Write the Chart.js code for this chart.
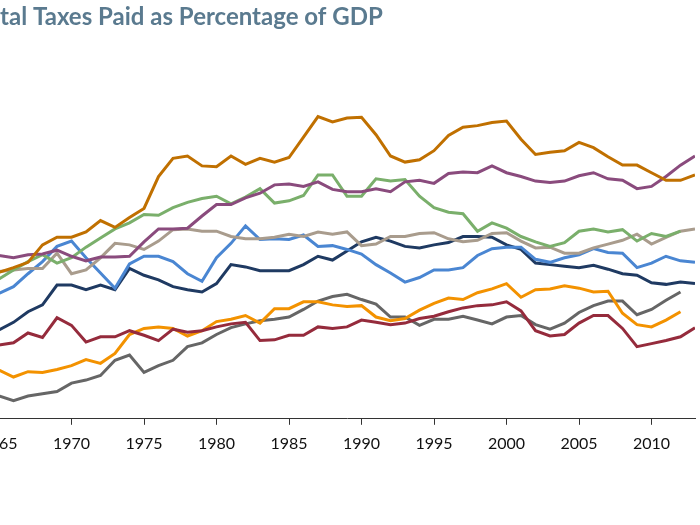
<!DOCTYPE html>
<html>
<head>
<meta charset="utf-8">
<script src="https://cdn.jsdelivr.net/npm/chart.js@4"></script>
<style>
html,body{margin:0;padding:0;background:#fff;overflow:hidden;width:700px;height:525px;}
#wrap{position:absolute;left:-60px;top:0;width:760px;height:525px;}
</style>
</head>
<body>
<div id="wrap"><canvas id="c"></canvas></div>
<script>
const titleText = "Total Taxes Paid as Percentage of GDP";
const years = [1965,1966,1967,1968,1969,1970,1971,1972,1973,1974,
               1975,1976,1977,1978,1979,1980,1981,1982,1983,1984,
               1985,1986,1987,1988,1989,1990,1991,1992,1993,1994,
               1995,1996,1997,1998,1999,2000,2001,2002,2003,2004,
               2005,2006,2007,2008,2009,2010,2011,2012,2013];
const tickYears = [1965,1970,1975,1980,1985,1990,1995,2000,2005,2010];

const brownSeries = [29.3,29.9,30.6,32.9,33.9,33.9,34.6,36.1,35.2,36.5,
  37.7,41.9,44.3,44.6,43.3,43.2,44.6,43.5,44.3,43.8,
  44.4,47.1,49.8,49.1,49.6,49.7,47.4,44.6,43.8,44.1,
  45.3,47.3,48.4,48.6,49.0,49.2,46.8,44.8,45.1,45.3,
  46.4,45.7,44.5,43.4,43.4,42.4,41.4,41.4,42.1];
const purpleSeries = [31.5,31.2,31.6,31.7,32.2,31.4,30.8,31.3,31.3,31.4,
  33.3,35.0,35.0,35.1,36.7,38.2,38.2,39.1,39.7,40.8,
  40.9,40.6,41.2,40.2,39.9,39.9,40.3,39.9,41.2,41.4,
  41.0,42.3,42.5,42.4,43.3,42.4,41.9,41.3,41.1,41.3,
  42.0,42.4,41.6,41.4,40.3,40.6,41.9,43.4,44.6];
const greenSeries = [28.4,29.6,30.7,31.6,30.5,31.2,32.6,33.8,35.0,35.8,
  36.9,36.8,37.8,38.5,39.0,39.3,38.3,39.2,40.3,38.4,
  38.7,39.4,42.1,42.1,39.3,39.3,41.6,41.3,41.5,39.3,
  37.8,37.2,37.0,34.7,35.8,35.1,34.0,33.3,32.7,33.2,
  34.7,35.0,34.6,34.9,33.4,34.4,34.0,34.7,null];
const tanSeries = [29.4,29.6,29.8,29.8,31.8,29.1,29.6,31.2,33.1,32.9,
  32.3,33.4,34.9,35.0,34.7,34.7,34.0,33.7,33.7,33.9,
  34.3,34.0,34.6,34.3,34.6,32.8,33.0,34.0,34.0,34.4,
  34.5,33.7,33.3,33.5,34.4,34.5,33.4,32.5,32.6,31.8,
  31.8,32.5,33.0,33.5,34.3,33.0,33.9,34.7,35.0];
const blueSeries = [26.5,27.4,29.1,30.7,32.7,33.4,31.2,29.2,27.2,30.4,
  31.4,31.4,30.7,29.1,28.1,31.2,33.1,35.4,33.6,33.7,
  33.6,34.2,32.7,32.8,32.3,31.7,30.3,29.2,28.0,28.6,
  29.6,29.6,29.9,31.5,32.4,32.6,32.6,31.0,30.6,31.2,
  31.6,32.4,31.9,31.8,29.9,30.5,31.4,30.8,30.6];
const navySeries = [21.7,22.7,24.1,25.0,27.6,27.6,27.0,27.6,27.0,29.8,
  28.9,28.3,27.4,27.0,26.7,27.8,30.3,30.0,29.5,29.5,
  29.5,30.3,31.4,30.9,32.1,33.3,33.9,33.4,32.7,32.5,
  32.9,33.2,34.0,34.0,33.9,32.9,32.3,30.5,30.3,30.1,
  29.9,30.2,29.7,29.1,28.9,27.9,27.7,28.0,27.8];
const redSeries = [19.7,20.0,21.3,20.7,23.3,22.3,20.1,20.8,20.8,21.6,
  21.0,20.3,21.8,21.4,21.6,22.1,22.5,22.7,20.3,20.4,
  21.0,21.0,22.1,21.9,22.1,23.0,22.7,22.4,22.6,23.2,
  23.5,24.1,24.6,24.9,25.0,25.4,24.2,21.6,20.9,21.1,
  22.6,23.6,23.6,21.9,19.5,19.9,20.3,20.8,22.0];
const orangeSeries = [16.4,15.5,16.2,16.1,16.5,17.0,17.8,17.3,18.6,21.1,
  21.9,22.1,21.9,20.9,21.6,22.8,23.1,23.6,22.6,24.5,
  24.5,25.4,25.4,25.0,24.8,24.9,23.4,22.9,23.2,24.3,
  25.2,25.9,25.7,26.6,27.1,27.8,26.0,27.0,27.1,27.5,
  27.2,26.7,26.8,23.9,22.4,22.1,23.0,24.1,null];
const graySeries = [13.0,12.4,13.0,13.3,13.6,14.7,15.1,15.7,17.7,18.4,
  16.1,17.0,17.7,19.5,20.0,21.1,22.0,22.5,22.9,23.1,
  23.4,24.4,25.5,26.1,26.4,25.7,25.1,23.4,23.4,22.3,
  23.1,23.1,23.5,23.0,22.5,23.4,23.6,22.4,21.8,22.6,
  24.0,24.9,25.5,25.5,23.7,24.4,25.6,26.7,null];

const seriesNames = ["Series 1","Series 2","Series 3","Series 4","Series 5","Series 6","Series 7","Series 8","Series 9"];
const seriesValues = [brownSeries,purpleSeries,greenSeries,tanSeries,blueSeries,navySeries,redSeries,orangeSeries,graySeries];
const seriesColors = ["#c07000","#8a4b7d","#7aaf6b","#a99c8d","#4a86d2","#1f3a62","#952b3c","#f39200","#666666"];

const datasets = seriesValues.map((vals, i) => ({
  label: seriesNames[i],
  data: years.map((yr, j) => ({x: yr, y: vals[j]})),
  borderColor: seriesColors[i],
  backgroundColor: seriesColors[i],
  borderWidth: 3,
  pointRadius: 0,
  tension: 0,
  fill: false
}));

new Chart(document.getElementById('c'), {
  type: 'line',
  data: {datasets},
  options: {
    responsive: true,
    maintainAspectRatio: false,
    animation: false,
    devicePixelRatio: 1,
    layout: {padding: {left: 35, right: 5, top: 0, bottom: 63}},
    plugins: {
      legend: {display: false},
      tooltip: {enabled: false},
      title: {
        display: true,
        text: titleText,
        align: 'start',
        color: '#5a7a8f',
        font: {family: 'Lato', size: 24, weight: 'bold'},
        padding: {top: 3, bottom: 8}
      }
    },
    scales: {
      x: {
        type: 'linear',
        min: 1965,
        max: 2013,
        grid: {display: true, drawOnChartArea: false, drawTicks: true, tickLength: 6, tickColor: '#333', tickWidth: 1},
        border: {display: true, color: '#333', width: 1},
        afterBuildTicks: (s) => { s.ticks = tickYears.map(v => ({value: v})); },
        ticks: {
          includeBounds: false,
          autoSkip: false,
          maxRotation: 0,
          padding: 9,
          color: '#111',
          font: {family: 'Lato', size: 16},
          callback: (v) => String(v)
        }
      },
      y: {
        min: 10,
        max: 59.9,
        display: true,
        grid: {display: false, drawTicks: false},
        border: {display: false},
        ticks: {display: false},
        afterFit: (s) => { s.width = 24; }
      }
    }
  }
});
</script>
</body>
</html>
